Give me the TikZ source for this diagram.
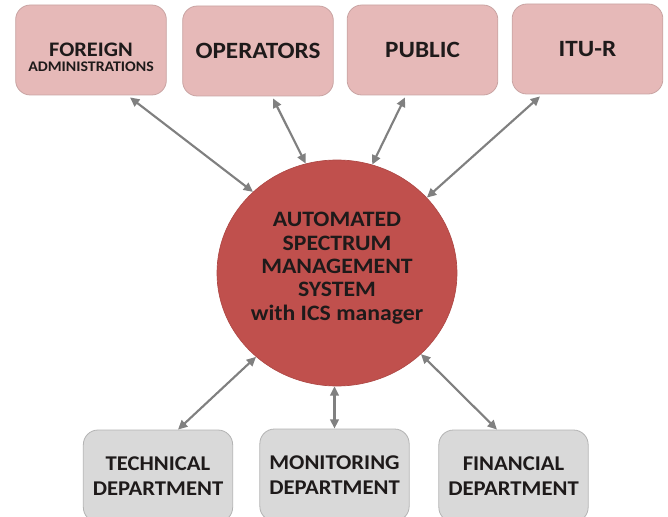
\documentclass[tikz,border=0pt]{standalone}
\usepackage{fontspec}
\setmainfont{Carlito}[FakeStretch=1.08]
\usetikzlibrary{calc,positioning,arrows.meta,shapes.geometric}

\definecolor{pinkbox}{HTML}{E6B9B8}
\definecolor{pinkline}{HTML}{C9A4A3}
\definecolor{asmsred}{HTML}{C0504D}
\definecolor{asmsline}{HTML}{AE4845}
\definecolor{greybox}{HTML}{D9D9D9}
\definecolor{greyline}{HTML}{B3B3B3}
\definecolor{linkgrey}{HTML}{808080}
\definecolor{labeltext}{HTML}{1E1A1A}

\tikzset{
  partybox/.style={draw=pinkline,fill=pinkbox,line width=0.6pt,rounded corners=11pt,
    minimum width=113pt,minimum height=67.5pt,text=labeltext,align=center,
    font=\bfseries\fontsize{17.5}{20}\selectfont},
  deptbox/.style={draw=greyline,fill=greybox,line width=0.6pt,rounded corners=11pt,
    minimum width=112pt,minimum height=69pt,text=labeltext,align=center,
    font=\bfseries\fontsize{15.75}{18.75}\selectfont},
  link/.style={linkgrey,line width=1.6pt,
    {Triangle[length=7pt,width=6.5pt]}-{Triangle[length=7pt,width=6.5pt]}}
}

\begin{document}
\begin{tikzpicture}[x=0.75pt,y=-0.75pt]
\useasboundingbox (0,0) rectangle (668,517);
\clip (0,0) rectangle (668,517);

% outside parties
\node[partybox] (foreign) at (91,50) {};
\node[inner sep=0pt,text=labeltext,align=center,font=\bfseries\fontsize{15.5}{18}\selectfont] (foreigntext) at (91,57)
  {FOREIGN\\[-6.5pt]{\fontsize{11}{12}\selectfont ADMINISTRATIONS}};
\node[partybox] (operators) at (258,51) {OPERATORS};
\node[partybox] (public) at (422.5,50) {PUBLIC};
\node[partybox] (itur) at (587.5,49) {ITU-R};

% central system
\node[ellipse,draw=asmsline,fill=asmsred,line width=0.5pt,inner sep=0pt,
  minimum width=180pt,minimum height=169.5pt] (asms) at (337,273) {};
\node[text=labeltext,align=center,font=\bfseries\fontsize{16.5}{17.5}\selectfont] (asmstext) at (337,268)
  {AUTOMATED\\SPECTRUM\\MANAGEMENT\\SYSTEM\\with ICS manager};

% departments
\node[deptbox] (technical) at (158,476) {TECHNICAL\\DEPARTMENT};
\node[deptbox] (monitoring) at (334.5,475) {MONITORING\\DEPARTMENT};
\node[deptbox] (financial) at (513.5,476) {FINANCIAL\\DEPARTMENT};

% links
\draw[link] ($(foreign.south)+(39,2)$) -- (asms.136);
\draw[link] ($(operators.south)+(15,2)$) -- (asms.106);
\draw[link] ($(public.south)+(-17.5,2)$) -- (asms.72);
\draw[link] ($(itur.south)+(-47.5,2)$) -- (asms.40);
\draw[link] (asms.226) -- ($(technical.north)+(20,0)$);
\draw[link] (asms.south -| monitoring.north) -- (monitoring.north);
\draw[link] (asms.316) -- ($(financial.north)+(-16.5,0)$);
\end{tikzpicture}
\end{document}
